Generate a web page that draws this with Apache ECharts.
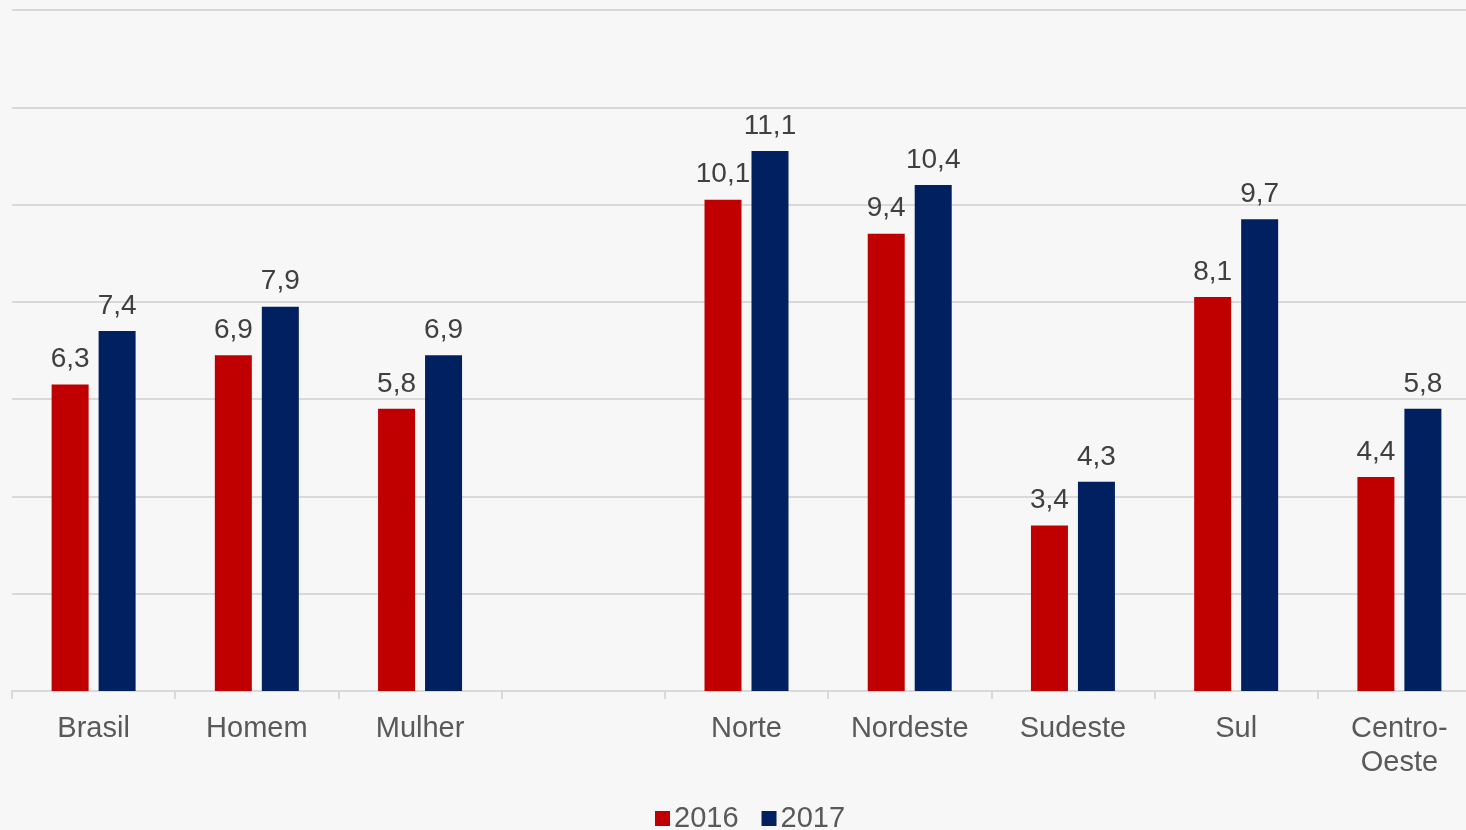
<!DOCTYPE html>
<html>
<head>
<meta charset="utf-8">
<script src="https://cdn.jsdelivr.net/npm/echarts@6/dist/echarts.min.js"></script>
<style>
  html, body { margin: 0; padding: 0; background: #f7f7f7; overflow: hidden; }
  /* a área do gráfico passa um pouco da borda direita, como no original */
  #main { width: 1481px; height: 830px; }
</style>
</head>
<body>
<div id="main"></div>
<script>
// categorias (a 4ª fica vazia para separar os grupos)
var categorias = ['Brasil', 'Homem', 'Mulher', '', 'Norte', 'Nordeste', 'Sudeste', 'Sul', 'Centro-\nOeste'];
var valores2016 = [6.3, 6.9, 5.8, null, 10.1, 9.4, 3.4, 8.1, 4.4];
var valores2017 = [7.4, 7.9, 6.9, null, 11.1, 10.4, 4.3, 9.7, 5.8];

var chart = echarts.init(document.getElementById('main'));

var rotulo = {
  show: true,
  position: 'top',
  distance: 11,
  color: '#404040',
  fontSize: 28,
  fontFamily: 'Liberation Sans, Arial, sans-serif',
  formatter: function (p) { return String(p.value).replace('.', ','); }
};

var option = {
  backgroundColor: '#f7f7f7',
  textStyle: { fontFamily: 'Liberation Sans, Arial, sans-serif' },
  legend: {
    data: ['2016', '2017'],
    bottom: -8,
    left: 650,
    itemWidth: 15,
    itemHeight: 15,
    itemGap: 23,
    icon: 'rect',
    textStyle: { color: '#595959', fontSize: 29, padding: [0, 0, 0, -1] }
  },
  grid: { left: 12, right: 0, top: 10, bottom: 139, containLabel: false },
  xAxis: {
    type: 'category',
    data: categorias,
    axisLine: { lineStyle: { color: '#d9d9d9', width: 2 } },
    axisTick: { show: true, length: 8, lineStyle: { color: '#d9d9d9', width: 2 } },
    axisLabel: { color: '#595959', fontSize: 29, margin: 21, lineHeight: 34, interval: 0 }
  },
  yAxis: {
    type: 'value',
    min: 0,
    max: 14,
    interval: 2,
    axisLabel: { show: false },
    axisLine: { show: false },
    axisTick: { show: false },
    splitLine: { lineStyle: { color: '#d9d9d9', width: 2 } }
  },
  series: [
    {
      name: '2016',
      type: 'bar',
      data: valores2016,
      barWidth: 37,
      barGap: '27%',
      itemStyle: { color: '#c00000' },
      label: rotulo
    },
    {
      name: '2017',
      type: 'bar',
      data: valores2017,
      barWidth: 37,
      itemStyle: { color: '#002060' },
      label: rotulo
    }
  ]
};

chart.setOption(option);
</script>
</body>
</html>
